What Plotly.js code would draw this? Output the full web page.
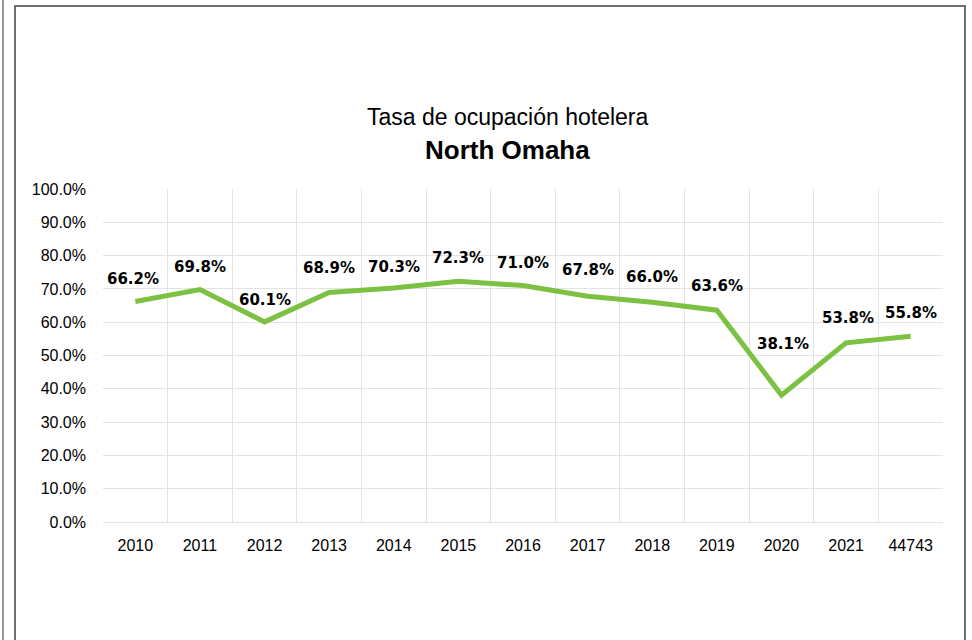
<!DOCTYPE html>
<html>
<head>
<meta charset="utf-8">
<script src="https://cdn.plot.ly/plotly-3.0.1.min.js"></script>
<style>
  html, body { margin: 0; padding: 0; background: #ffffff; }
  #chart { width: 972px; height: 640px; }
</style>
</head>
<body>
<div id="chart"></div>
<script>
// ---- data ----
const categories = ["2010", "2011", "2012", "2013", "2014", "2015", "2016", "2017", "2018", "2019", "2020", "2021", "44743"];
const occupancy = [0.662, 0.698, 0.601, 0.689, 0.703, 0.723, 0.710, 0.678, 0.660, 0.636, 0.381, 0.538, 0.558];
const titleLine1 = "Tasa de ocupación hotelera";
const titleLine2 = "North Omaha";

// ---- style (label offsets in px) ----
const labelYShift = [23, 23, 22, 25, 21, 23, 23, 26, 25, 24, 51, 25, 23];
const labelXShift = [-2, 0, 0, 0, 0, 0, 0, 0, 0, 0, 2, 2, 0];

const fmt = v => (v * 100).toFixed(1) + "%";

const trace = {
  type: "scatter",
  mode: "lines",
  x: categories,
  y: occupancy,
  line: { color: "#7dc143", width: 5 },
  hoverinfo: "skip"
};

const labelAnns = categories.map((c, i) => ({
  x: i, y: occupancy[i], xref: "x", yref: "y",
  text: "<b>" + fmt(occupancy[i]) + "</b>",
  showarrow: false,
  yshift: labelYShift[i],
  xshift: labelXShift[i],
  font: { family: "DejaVu Sans, sans-serif", size: 15, color: "#000000" }
}));

const titleAnns = [
  { xref: "paper", yref: "paper", x: 0.482, y: 1.216, xanchor: "center", yanchor: "middle",
    text: titleLine1, showarrow: false,
    font: { family: "Liberation Sans, Arial, sans-serif", size: 23, color: "#000000" } },
  { xref: "paper", yref: "paper", x: 0.482, y: 1.117, xanchor: "center", yanchor: "middle",
    text: "<b>" + titleLine2 + "</b>", showarrow: false,
    font: { family: "Liberation Sans, Arial, sans-serif", size: 26, color: "#000000" } }
];

const layout = {
  width: 972, height: 640,
  margin: { l: 103, r: 29, t: 189, b: 118 },
  paper_bgcolor: "#ffffff",
  plot_bgcolor: "#ffffff",
  showlegend: false,
  xaxis: {
    type: "category",
    tickson: "boundaries",
    showgrid: true, gridcolor: "#e3e3e3", gridwidth: 1,
    showline: false, zeroline: false,
    ticks: "", ticklen: 0,
    ticklabelstandoff: 12,
    tickfont: { family: "Liberation Sans, Arial, sans-serif", size: 16, color: "#000000" },
    range: [-0.5, categories.length - 0.5]
  },
  yaxis: {
    range: [0, 1],
    dtick: 0.1,
    tickformat: ".1%",
    showgrid: true, gridcolor: "#e3e3e3", gridwidth: 1,
    zeroline: true, zerolinecolor: "#e3e3e3", zerolinewidth: 1,
    showline: false,
    ticks: "",
    ticklabelstandoff: 16,
    tickfont: { family: "Liberation Sans, Arial, sans-serif", size: 16, color: "#000000" }
  },
  annotations: labelAnns.concat(titleAnns),
  shapes: [
    { type: "rect", xref: "paper", yref: "paper",
      x0: (15 - 103) / 840, x1: (965 - 103) / 840,
      y0: (522 - 660) / 333, y1: (522 - 6) / 333,
      line: { color: "#404040", width: 1.5 }, fillcolor: "rgba(0,0,0,0)", layer: "below" },
    { type: "line", xref: "paper", yref: "paper",
      x0: (3 - 103) / 840, x1: (3 - 103) / 840,
      y0: (522 - 660) / 333, y1: (522 + 10) / 333,
      line: { color: "#9a9a9a", width: 2 } }
  ]
};

Plotly.newPlot("chart", [trace], layout, { displayModeBar: false, staticPlot: true });
</script>
</body>
</html>
